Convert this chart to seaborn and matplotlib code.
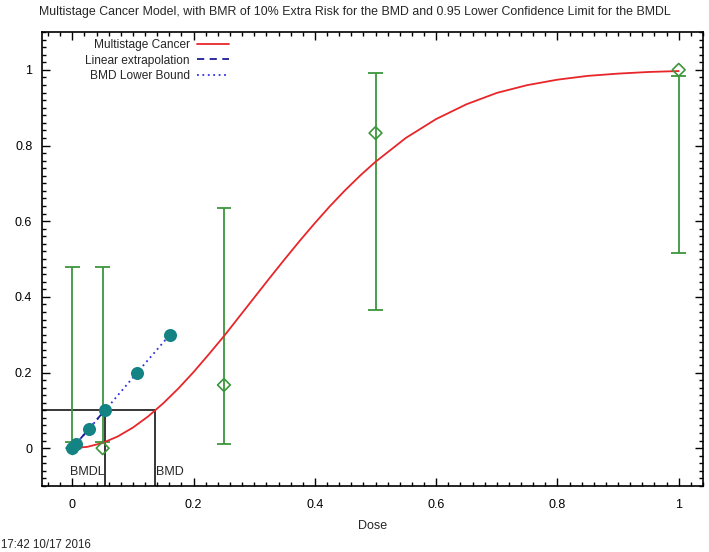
import numpy as np
import pandas as pd
import matplotlib
matplotlib.use("Agg")
import matplotlib.pyplot as plt
from matplotlib.ticker import MultipleLocator
from matplotlib.lines import Line2D
import seaborn as sns

# ---- data ----
dose = [0.0, 0.05, 0.25, 0.5, 1.0]
resp = [0.0, 0.0, 0.167, 0.833, 1.0]
ci_low = [0.016, 0.016, 0.01, 0.365, 0.517]
ci_high = [0.48, 0.48, 0.635, 0.992, 0.985]

curve_dose = [0.0, 0.025, 0.05, 0.075, 0.1, 0.125, 0.15, 0.175, 0.2, 0.225,
              0.25, 0.275, 0.3, 0.325, 0.35, 0.375, 0.4, 0.425, 0.45, 0.475,
              0.5, 0.55, 0.6, 0.65, 0.7, 0.75, 0.8, 0.85, 0.9, 0.95, 1.0]
curve_resp = [0.0, 0.0035, 0.0139, 0.031, 0.0545, 0.0839, 0.1187, 0.158, 0.2013, 0.248,
              0.296, 0.347, 0.398, 0.449, 0.499, 0.548, 0.595, 0.640, 0.682, 0.721,
              0.757, 0.820, 0.870, 0.909, 0.939, 0.9595, 0.974, 0.984, 0.990, 0.9943, 0.9968]

lin_dose = [0.0, 0.0054, 0.027, 0.054, 0.107, 0.161]
lin_resp = [0.0, 0.01, 0.05, 0.1, 0.2, 0.3]

bmd = 0.137
bmdl = 0.0535
bmr = 0.1

title = ("Multistage Cancer Model, with BMR of 10% Extra Risk for the BMD "
         "and 0.95 Lower Confidence Limit for the BMDL")
xticks = [0, 0.2, 0.4, 0.6, 0.8, 1]
yticks = [0, 0.2, 0.4, 0.6, 0.8, 1]

# ---- plot ----
sns.set_theme(style="ticks")
plt.rcParams["font.family"] = ["Liberation Sans", "DejaVu Sans"]

fig = plt.figure(figsize=(7.09, 5.52), dpi=100)
ax = fig.add_axes([42 / 709, 1 - 486 / 552, (703 - 42) / 709, (486 - 32) / 552])

red = "#e8262a"
green = "#3c963c"
teal = "#138383"
navy = "#1c1c9a"
blue = "#3030e0"

curve_df = pd.DataFrame({"Dose": curve_dose, "Response": curve_resp})
sns.lineplot(data=curve_df, x="Dose", y="Response", ax=ax, color=red, lw=1.3,
             estimator=None, sort=False, zorder=4)

# error bars (vertical line + caps)
cap_half = 0.012
ax.vlines(dose, ci_low, ci_high, color=green, lw=1.3, zorder=3)
ax.hlines(ci_low, np.array(dose) - cap_half, np.array(dose) + cap_half, color=green, lw=1.3, zorder=3)
ax.hlines(ci_high, np.array(dose) - cap_half, np.array(dose) + cap_half, color=green, lw=1.3, zorder=3)
pts_df = pd.DataFrame({"Dose": dose, "Response": resp})
sns.scatterplot(data=pts_df, x="Dose", y="Response", ax=ax, marker="D", s=42,
                facecolor="none", edgecolor=green, linewidth=1.2, zorder=5)

# linear extrapolation / lower bound
lin_df = pd.DataFrame({"Dose": lin_dose, "Response": lin_resp})
sns.lineplot(data=lin_df, x="Dose", y="Response", ax=ax, color=blue, lw=1.3,
             linestyle=(0, (1, 2)), estimator=None, sort=False, zorder=5)
ax.plot([0, bmdl], [0, bmr], color=navy, lw=1.3, linestyle=(0, (4, 3)), zorder=5)
sns.scatterplot(data=lin_df, x="Dose", y="Response", ax=ax, color=teal, s=88,
                edgecolor=teal, linewidth=0, zorder=6)

# BMD / BMDL lines
ax.plot([-0.05, bmd], [bmr, bmr], color="black", lw=1.1, zorder=2)
ax.plot([bmd, bmd], [-0.12, bmr], color="black", lw=1.1, zorder=2)
ax.plot([bmdl, bmdl], [-0.12, bmr], color="black", lw=1.1, zorder=2)
ax.text(bmdl - 0.001, -0.062, "BMDL", ha="right", va="center", fontsize=9)
ax.text(bmd + 0.001, -0.062, "BMD", ha="left", va="center", fontsize=9)

ax.set_xlim(-0.05, 1.04)
ax.set_ylim(-0.1, 1.1)
ax.set_xticks(xticks)
ax.set_xticklabels(["0", "0.2", "0.4", "0.6", "0.8", "1"])
ax.set_yticks(yticks)
ax.set_yticklabels(["0", "0.2", "0.4", "0.6", "0.8", "1"])
ax.xaxis.set_minor_locator(MultipleLocator(0.02))
ax.yaxis.set_minor_locator(MultipleLocator(0.02))
ax.tick_params(which="both", direction="in", top=True, right=True, colors="black",
               labelsize=9)
ax.tick_params(which="major", length=6, width=1)
ax.tick_params(which="minor", length=3, width=1)
ax.tick_params(axis="x", which="major", pad=9)
ax.tick_params(axis="y", which="major", pad=7)
for s in ax.spines.values():
    s.set_visible(True)
    s.set_linewidth(1.2)
    s.set_color("black")

ax.set_xlabel("Dose", fontsize=9, labelpad=7)
ax.set_ylabel("")
ax.grid(False)

handles = [Line2D([], [], color=red, lw=1.3),
           Line2D([], [], color=navy, lw=1.3, linestyle=(0, (4, 3))),
           Line2D([], [], color=blue, lw=1.3, linestyle=(0, (1, 2)))]
labels = ["Multistage Cancer", "Linear extrapolation", "BMD Lower Bound"]
ax.legend(handles, labels, loc="upper left", bbox_to_anchor=(0.058, 0.995),
          borderaxespad=0, frameon=False, markerfirst=False, fontsize=8.6,
          handlelength=2.7, handletextpad=0.6, labelspacing=0.3)

fig.text(0.5, 1 - 12 / 552, title, ha="center", va="center", fontsize=8.9)
fig.text(0.001, 1 - 545 / 552, "17:42 10/17 2016", ha="left", va="center", fontsize=8.3)

fig.savefig("out.png", dpi=100)
